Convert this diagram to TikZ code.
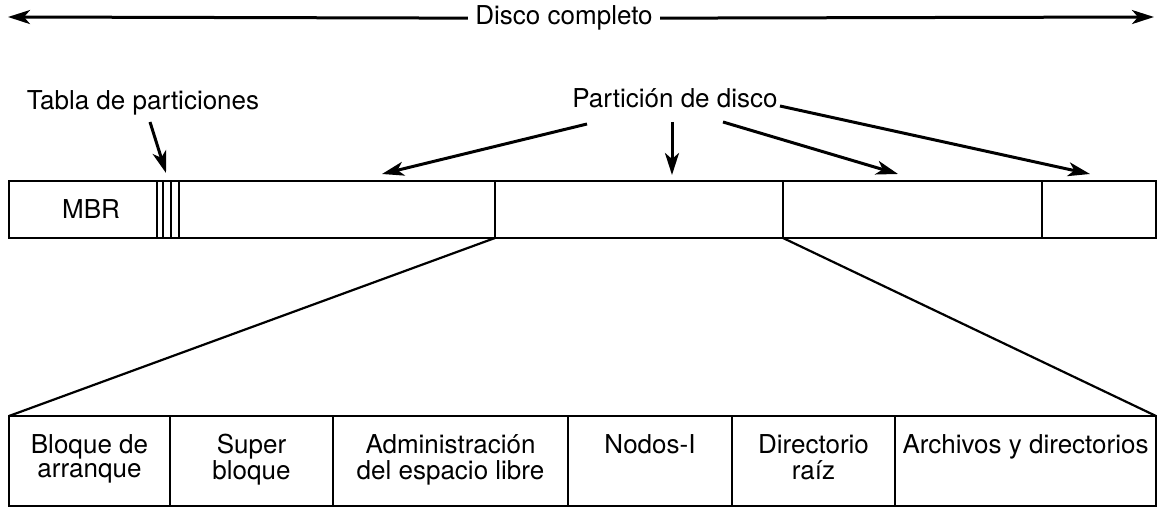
\documentclass[tikz,border=0pt]{standalone}
\usepackage{fontspec}
\setmainfont{TeX Gyre Heros}
\usepackage{tikz}
\usetikzlibrary{arrows.meta,positioning}

\newcommand{\celltext}[1]{\begin{tabular}[t]{@{}c@{}}#1\end{tabular}}

\begin{document}
\begin{tikzpicture}[x=0.5pt,y=-0.5pt,
	every node/.style={font=\fontsize{13}{12}\selectfont},
	cell/.style={draw,line width=1.1pt,inner sep=0pt,outer sep=0pt,minimum height=28.5pt},
	fscell/.style={draw,line width=1.1pt,inner sep=0pt,outer sep=0pt,minimum height=45pt,
		text height=18.5pt,text depth=26.5pt},
	lbl/.style={inner sep=0pt,anchor=base},
	arr/.style={-{Stealth[length=11pt,width=7pt,inset=3pt]},line width=1.5pt}]
	\useasboundingbox (0,0) rectangle (1168,518);
	
	\node[lbl,inner xsep=3.5pt] (disco) at (564,25) {Disco completo};
	\coordinate (dl) at (8,17);
	\coordinate (dr) at (1154,17);
	\path [arr] (disco) edge (dl);
	\path [arr] (disco) edge (dr);
	
	\node[cell,minimum width=74pt,anchor=west,label={[xshift=4pt]center:MBR}] (mbr) at (9,209.5) {};
	\node[cell,minimum width=3pt,right=0pt of mbr] (tab1) {};
	\node[cell,minimum width=4pt,right=0pt of tab1] (tab2) {};
	\node[cell,minimum width=4pt,right=0pt of tab2] (tab3) {};
	\node[cell,minimum width=158pt,right=0pt of tab3] (p1) {};
	\node[cell,minimum width=144pt,right=0pt of p1] (p2) {};
	\node[cell,minimum width=129.5pt,right=0pt of p2] (p3) {};
	\node[cell,minimum width=57pt,right=0pt of p3] (p4) {};
	
	\node[fscell,minimum width=80.5pt,anchor=west] (boot) at (9,461) {\celltext{Bloque de\\arranque}};
	\node[fscell,minimum width=81.5pt,right=0pt of boot] (super) {\celltext{Super\\bloque}};
	\node[fscell,minimum width=117.5pt,right=0pt of super] (libre) {\celltext{Administración\\del espacio libre}};
	\node[fscell,minimum width=82pt,right=0pt of libre] (inodos) {\celltext{Nodos-I}};
	\node[fscell,minimum width=81.5pt,right=0pt of inodos] (raiz) {\celltext{Directorio\\raíz}};
	\node[fscell,minimum width=130.5pt,right=0pt of raiz] (archivos) {\celltext{Archivos y directorios}};
	
	\path [-,line width=1.1pt] (p2.south west) edge (boot.north west);
	\path [-,line width=1.1pt] (p2.south east) edge (archivos.north east);
	
	\node[lbl] (tabla) at (143,110) {Tabla de particiones};
	\node[lbl] (part) at (675,108) {Partición de disco};
	
	\path [arr] ([shift={(7,12)}]tabla.base) edge ([shift={(-1,-8)}]tab2.north);
	\path [arr] ([shift={(-88,16)}]part.base) edge ([shift={(45,-7)}]p1.north);
	\path [arr] ([shift={(-3,14)}]part.base) edge ([shift={(33,-6)}]p2.north);
	\path [arr] ([shift={(48,14)}]part.base) edge ([shift={(-14.5,-7)}]p3.north);
	\path [arr] ([shift={(2,-2)}]part.base east) edge ([shift={(-9,-7)}]p4.north);
\end{tikzpicture}
\end{document}
